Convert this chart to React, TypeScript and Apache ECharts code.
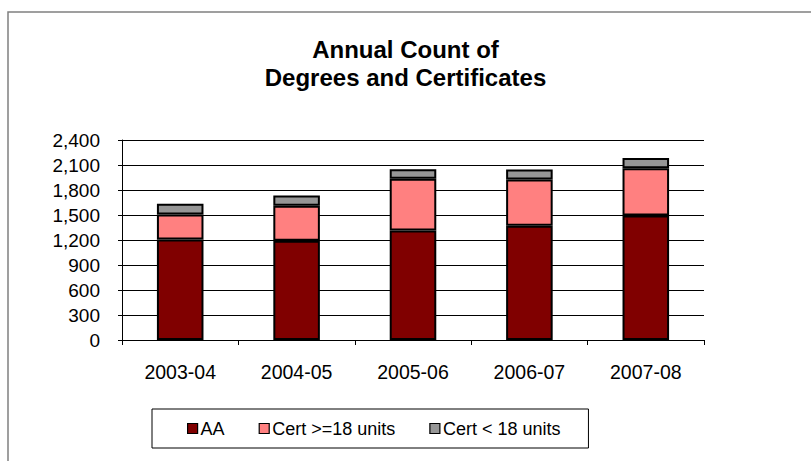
import React, { useEffect, useRef } from "react";
import * as echarts from "echarts";

const categories = ["2003-04", "2004-05", "2005-06", "2006-07", "2007-08"];
const aaValues = [1205, 1190, 1315, 1370, 1495];
const certOver18 = [300, 420, 620, 555, 565];
const certUnder18 = [130, 125, 115, 120, 125];
const seriesNames = ["AA", "Cert >=18 units", "Cert < 18 units"];
const seriesColors = ["#800000", "#FF8080", "#969696"];

export default function App() {
  const ref = useRef<HTMLDivElement>(null);
  useEffect(() => {
    if (!ref.current) return;
    const chart = echarts.init(ref.current, null, { renderer: "svg" });
    const font = "Arial, 'Liberation Sans', sans-serif";
    const data = [aaValues, certOver18, certUnder18];
    chart.setOption({
      animation: false,
      backgroundColor: "#ffffff",
      textStyle: { fontFamily: font },
      title: {
        text: "Annual Count of\nDegrees and Certificates",
        left: "center",
        top: 30,
        textStyle: {
          fontFamily: font,
          fontSize: 24,
          fontWeight: "bold",
          color: "#000",
          lineHeight: 28,
        },
      },
      graphic: [
        {
          type: "rect",
          shape: { x: 8, y: 12, width: 900, height: 600 },
          style: { fill: "none", stroke: "#808080", lineWidth: 1.5 },
          silent: true,
          z: -10,
        },
      ],
      legend: {
        left: 152,
        top: 409,
        padding: [10, 28, 10, 35],
        borderColor: "#000",
        borderWidth: 1,
        itemWidth: 10,
        itemHeight: 10,
        itemGap: 34,
        icon: "rect",
        itemStyle: { borderColor: "#000", borderWidth: 1.2 },
        textStyle: { fontFamily: font, fontSize: 18, color: "#000", lineHeight: 19, padding: [0, 0, 0, -2] },
        data: seriesNames,
      },
      grid: { left: 122, right: 107, top: 140, bottom: 121, containLabel: false },
      xAxis: {
        type: "category",
        data: categories,
        boundaryGap: true,
        axisLine: { lineStyle: { color: "#000", width: 1 } },
        axisTick: { show: true, alignWithLabel: false, length: 5, lineStyle: { color: "#000" } },
        axisLabel: { color: "#000", fontSize: 19.5, fontFamily: font, margin: 22 },
      },
      yAxis: {
        type: "value",
        min: 0,
        max: 2400,
        interval: 300,
        axisLine: { show: true, lineStyle: { color: "#000", width: 1 } },
        axisTick: { show: true, length: 4, lineStyle: { color: "#000" } },
        axisLabel: {
          color: "#000",
          fontSize: 19,
          fontFamily: font,
          margin: 22,
          formatter: (v: number) => v.toLocaleString("en-US"),
        },
        splitLine: { show: true, lineStyle: { color: "#000", width: 1 } },
      },
      series: seriesNames.map((name, i) => ({
        name,
        type: "bar",
        stack: "total",
        barWidth: "40%",
        data: data[i],
        itemStyle: { color: seriesColors[i], borderColor: "#000", borderWidth: 2 },
      })),
    });
    return () => chart.dispose();
  }, []);
  return (
    <div
      ref={ref}
      style={{ position: "absolute", left: 0, top: 0, width: 811, height: 461 }}
    />
  );
}
